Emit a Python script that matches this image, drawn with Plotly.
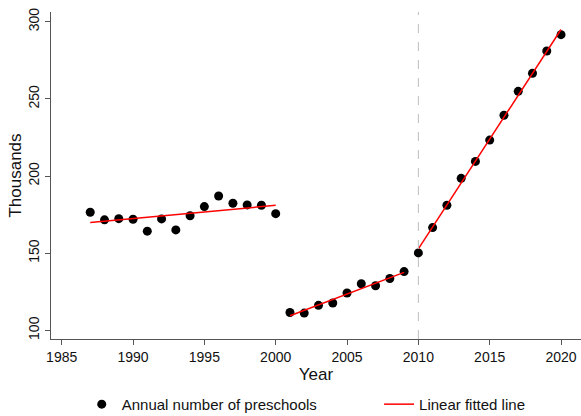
import numpy as np
import plotly.graph_objects as go

# Annual number of preschools (thousands)
years = list(range(1987, 2021))
preschools = [
    176.5, 171.6, 172.4, 172.0, 164.3, 172.2, 165.1, 174.3, 180.2, 187.1,
    182.4, 181.3, 181.1, 175.6,                                   # 1987-2000
    111.6, 111.2, 116.2, 117.7, 124.2, 130.2, 128.9, 133.6, 138.1,  # 2001-2009
    150.2, 166.6, 181.1, 198.5, 209.5, 223.3, 239.4, 254.9, 266.6,
    281.0, 291.6,                                                 # 2010-2020
]

# Periods over which a separate linear trend is fitted
periods = [(1987, 2000), (2001, 2009), (2010, 2020)]
break_year = 2010

x_ticks = [1985, 1990, 1995, 2000, 2005, 2010, 2015, 2020]
y_ticks = [100, 150, 200, 250, 300]

FONT = "Liberation Sans, Arial, Helvetica, sans-serif"
AXIS_COLOR = "#555555"

fig = go.Figure()

fig.add_trace(go.Scatter(
    x=years, y=preschools, mode="markers",
    marker=dict(color="black", size=9),
    name="Annual number of preschools", legend="legend",
))

yr = np.array(years)
val = np.array(preschools)
for i, (start, end) in enumerate(periods):
    sel = (yr >= start) & (yr <= end)
    slope, intercept = np.polyfit(yr[sel], val[sel], 1)
    xs = [start, end]
    fig.add_trace(go.Scatter(
        x=xs, y=[slope * x + intercept for x in xs], mode="lines",
        line=dict(color="red", width=1.5),
        name="Linear fitted line", legend="legend2",
        legendgroup="fit", showlegend=(i == 0),
    ))

fig.add_vline(x=break_year, line=dict(color="#bdbdbd", width=1, dash="dash"))

legend_style = dict(
    orientation="h", y=-0.2, yanchor="middle", xanchor="left",
    font=dict(size=15), bgcolor="rgba(0,0,0,0)",
)

fig.update_layout(
    width=581, height=416,
    margin=dict(l=51, r=0, t=12, b=77, autoexpand=False),
    plot_bgcolor="white", paper_bgcolor="white",
    font=dict(family=FONT, size=14, color="#111111"),
    showlegend=True,
    legend=dict(x=0.058, **legend_style),
    legend2=dict(x=0.619, **legend_style),
    xaxis=dict(
        range=[1984.25, 2021.4], tickvals=x_ticks,
        showline=True, linecolor=AXIS_COLOR, linewidth=1,
        ticks="outside", ticklen=5, tickcolor=AXIS_COLOR,
        showgrid=False, zeroline=False,
        title=dict(text="Year", standoff=2),
    ),
    yaxis=dict(
        range=[94.4, 306.3], tickvals=y_ticks, tickangle=-90,
        showline=True, linecolor=AXIS_COLOR, linewidth=1,
        ticks="outside", ticklen=5, tickcolor=AXIS_COLOR,
        showgrid=False, zeroline=False,
        title=dict(text="Thousands", standoff=0),
    ),
)

fig.write_html("out.html")
